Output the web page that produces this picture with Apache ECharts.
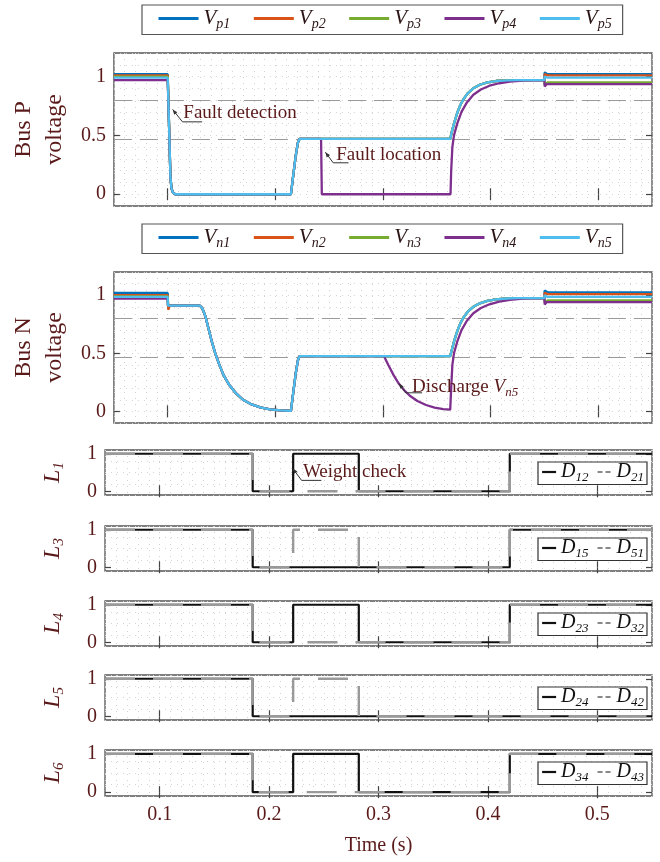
<!DOCTYPE html>
<html>
<head>
<meta charset="utf-8">
<script src="https://cdn.jsdelivr.net/npm/echarts@6/dist/echarts.min.js"></script>
<style>
html, body { margin: 0; padding: 0; background: #fff; }
#main { width: 660px; height: 862px; }
</style>
</head>
<body>
<div id="main"></div>
<script>
// ---- axes ----
var tMin = 0.05, tMax = 0.55;
var xTicks = [0.1, 0.2, 0.3, 0.4, 0.5];
var busTicks = [0, 0.5, 1];
var lineTicks = [0, 1];
var refLevels = [0.8, 0.465];

// ---- bus P voltage, [time, pu] ----
var pDrop = [[0.1015, 0.5], [0.1025, 0.15], [0.1035, 0.05], [0.105, 0.012], [0.107, 0], [0.2145, 0],
    [0.2165, 0.15], [0.219, 0.33], [0.221, 0.44], [0.2225, 0.47]];
var pRise = [[0.3625, 0.47], [0.364, 0.53], [0.366, 0.6], [0.369, 0.69], [0.372, 0.76], [0.375, 0.81],
    [0.379, 0.86], [0.384, 0.9], [0.39, 0.93], [0.397, 0.95], [0.405, 0.962], [0.415, 0.968], [0.425, 0.97], [0.45, 0.97]];
var p4Rise = [[0.2425, 0.47], [0.2432, 0], [0.3628, 0], [0.3634, 0.2], [0.3645, 0.4], [0.366, 0.5], [0.369, 0.6],
    [0.373, 0.7], [0.378, 0.78], [0.384, 0.845], [0.391, 0.89], [0.399, 0.922], [0.408, 0.943], [0.418, 0.957],
    [0.43, 0.966], [0.45, 0.97]];
var vp1 = [[0.05, 1.02], [0.1, 1.02]].concat(pDrop, pRise, [[0.4502, 1.035], [0.453, 1.02], [0.55, 1.02]]);
var vp2 = [[0.05, 1.01], [0.1, 1.01]].concat(pDrop, pRise, [[0.4502, 1.02], [0.453, 1.01], [0.55, 1.01]]);
var vp3 = [[0.05, 1.0], [0.1, 1.0]].concat(pDrop, pRise, [[0.4502, 0.93], [0.453, 0.95], [0.55, 0.95]]);
var vp4 = [[0.05, 0.97], [0.1, 0.97]].concat(pDrop, p4Rise, [[0.4503, 0.915], [0.452, 0.935], [0.55, 0.935]]);
var vp5 = [[0.05, 0.99], [0.1, 0.99]].concat(pDrop, pRise, [[0.4502, 1.0], [0.453, 0.99], [0.55, 0.99]]);

// ---- bus N voltage ----
var nDrop = [[0.13, 0.91], [0.132, 0.89], [0.135, 0.82], [0.138, 0.71], [0.141, 0.6], [0.1445, 0.49], [0.148, 0.4],
    [0.152, 0.31], [0.157, 0.23], [0.163, 0.16], [0.17, 0.1], [0.178, 0.06], [0.186, 0.035], [0.195, 0.018],
    [0.205, 0.008], [0.2145, 0.005], [0.2165, 0.15], [0.219, 0.33], [0.221, 0.44], [0.2225, 0.475]];
var nRise = [[0.3625, 0.475], [0.364, 0.53], [0.366, 0.6], [0.369, 0.69], [0.372, 0.76], [0.375, 0.81],
    [0.379, 0.86], [0.384, 0.9], [0.39, 0.93], [0.397, 0.952], [0.405, 0.965], [0.415, 0.972], [0.425, 0.975], [0.45, 0.975]];
var n4Fall = [[0.301, 0.475], [0.305, 0.4], [0.31, 0.31], [0.315, 0.235], [0.32, 0.18], [0.325, 0.135], [0.332, 0.09],
    [0.34, 0.055], [0.348, 0.033], [0.356, 0.02], [0.3625, 0.015], [0.3634, 0.2], [0.3645, 0.4], [0.366, 0.5],
    [0.369, 0.6], [0.373, 0.7], [0.378, 0.78], [0.384, 0.845], [0.391, 0.89], [0.399, 0.922], [0.408, 0.945],
    [0.418, 0.96], [0.43, 0.97], [0.45, 0.975]];
var vn1 = [[0.05, 1.02], [0.1, 1.02], [0.1003, 0.91]].concat(nDrop, nRise, [[0.4502, 1.04], [0.453, 1.025], [0.55, 1.025]]);
var vn2 = [[0.05, 1.0], [0.1, 1.0], [0.1005, 0.875], [0.102, 0.91]].concat(nDrop, nRise, [[0.4502, 1.02], [0.453, 1.01], [0.55, 1.01]]);
var vn3 = [[0.05, 0.99], [0.1, 0.99], [0.1003, 0.91]].concat(nDrop, nRise, [[0.4502, 0.94], [0.453, 0.955], [0.55, 0.955]]);
var vn4 = [[0.05, 0.97], [0.1, 0.97], [0.1003, 0.91]].concat(nDrop, n4Fall, [[0.4503, 0.92], [0.452, 0.94], [0.55, 0.94]]);
var vn5 = [[0.05, 0.985], [0.1, 0.985], [0.1003, 0.91]].concat(nDrop, nRise, [[0.4502, 1.0], [0.453, 0.985], [0.55, 0.985]]);

// ---- line switch states, step held until next time ----
var d12 = [[0.05, 1], [0.185, 0], [0.222, 1], [0.282, 0], [0.42, 1], [0.55, 1]];
var d21 = [[0.05, 1], [0.185, 0], [0.42, 1], [0.55, 1]];
var d15 = [[0.05, 1], [0.185, 0], [0.42, 1], [0.55, 1]];
var d51 = [[0.05, 1], [0.185, 0], [0.222, 1], [0.282, 0], [0.42, 1], [0.55, 1]];
var d23 = [[0.05, 1], [0.185, 0], [0.222, 1], [0.282, 0], [0.42, 1], [0.55, 1]];
var d32 = [[0.05, 1], [0.185, 0], [0.42, 1], [0.55, 1]];
var d24 = [[0.05, 1], [0.185, 0], [0.55, 0]];
var d42 = [[0.05, 1], [0.185, 0], [0.222, 1], [0.282, 0], [0.55, 0]];
var d34 = [[0.05, 1], [0.185, 0], [0.222, 1], [0.282, 0], [0.42, 1], [0.55, 1]];
var d43 = [[0.05, 1], [0.185, 0], [0.42, 1], [0.55, 1]];

var serif = 'Liberation Serif';
var maroon = '#5a1a1a';
var colors = ['#0072BD', '#D95319', '#77AC30', '#7E2F8E', '#4DBEEE'];

var panels = [
    {top: 53, height: 153, ymin: -0.1, ymax: 1.2, yStep: 0.1, ticks: busTicks, name: 'Bus P\nvoltage',
        series: [['Vp1', vp1], ['Vp2', vp2], ['Vp3', vp3], ['Vp4', vp4], ['Vp5', vp5]]},
    {top: 272, height: 151, ymin: -0.1, ymax: 1.2, yStep: 0.1, ticks: busTicks, name: 'Bus N\nvoltage',
        series: [['Vn1', vn1], ['Vn2', vn2], ['Vn3', vn3], ['Vn4', vn4], ['Vn5', vn5]]},
    {top: 450, height: 45, ymin: -0.1, ymax: 1.1, yStep: 0.3, ticks: lineTicks, sub: '1', series: [['D12', d12], ['D21', d21]]},
    {top: 526, height: 45, ymin: -0.1, ymax: 1.1, yStep: 0.3, ticks: lineTicks, sub: '3', series: [['D15', d15], ['D51', d51]]},
    {top: 601, height: 45, ymin: -0.1, ymax: 1.1, yStep: 0.3, ticks: lineTicks, sub: '4', series: [['D23', d23], ['D32', d32]]},
    {top: 675, height: 45, ymin: -0.1, ymax: 1.1, yStep: 0.3, ticks: lineTicks, sub: '5', series: [['D24', d24], ['D42', d42]]},
    {top: 750, height: 46, ymin: -0.1, ymax: 1.1, yStep: 0.3, ticks: lineTicks, sub: '6', series: [['D34', d34], ['D43', d43]]}
];

// annotation arrows (data coords of each panel)
var notes = [
    {grid: 0, text: 'Fault detection', tip: [0.1046, 0.72], elbow: [0.1137, 0.615], end: [0.132, 0.615], at: [0.1145, 0.69]},
    {grid: 0, text: 'Fault location', tip: [0.2465, 0.357], elbow: [0.2538, 0.267], end: [0.268, 0.267], at: [0.2565, 0.33]},
    {grid: 1, text: 'Discharge {v|V}{s|n5}', tip: [0.315, 0.24], elbow: [0.3212, 0.16], end: [0.3364, 0.16], at: [0.3271, 0.21]},
    {grid: 2, text: 'Weight check', tip: [0.2217, 0.605], elbow: [0.2297, 0.29], end: [0.2478, 0.29], at: [0.2309, 0.51]}
];

var tickStyle = {color: '#444', width: 1.2};
var dotStyle = {color: '#d2d2d2', width: 1, type: [1, 5]};
var subRich = {
    v: {fontFamily: serif, fontStyle: 'italic', fontSize: 21, color: '#2a1414', lineHeight: 26},
    s: {fontFamily: serif, fontStyle: 'italic', fontSize: 14, color: '#2a1414', lineHeight: 14, verticalAlign: 'bottom'}
};

var grid = [], xAxis = [], yAxis = [], series = [], legend = [];

panels.forEach(function (p, i) {
    var last = i === panels.length - 1;
    grid.push({left: 105, right: 8, top: p.top, height: p.height, show: true,
        borderColor: '#555', borderWidth: 1.3, backgroundColor: 'transparent'});

    xAxis.push({
        gridIndex: i, type: 'value', min: tMin, max: tMax, position: 'bottom',
        axisLine: {show: false},
        axisTick: {customValues: xTicks, inside: true, length: 6, lineStyle: tickStyle},
        axisLabel: {show: last, customValues: xTicks, margin: 9, fontFamily: serif, fontSize: 20, color: maroon,
            formatter: function (v) { return v.toFixed(1); }},
        splitLine: {show: false},
        name: last ? 'Time (s)' : '', nameLocation: 'middle', nameGap: 40,
        nameTextStyle: {fontFamily: serif, fontSize: 20, color: maroon}
    });
    xAxis.push({
        gridIndex: i, type: 'value', min: tMin, max: tMax, position: 'top',
        axisLine: {show: false}, axisLabel: {show: false}, splitLine: {show: false},
        axisTick: {customValues: xTicks, inside: true, length: 6, lineStyle: tickStyle}
    });
    xAxis.push({
        gridIndex: i, type: 'value', min: tMin, max: tMax, interval: 0.01, position: 'bottom',
        axisLine: {show: false}, axisLabel: {show: false}, axisTick: {show: false},
        splitLine: {show: true, lineStyle: dotStyle}
    });

    var yName = p.name ? p.name : '{i|L}{s|' + p.sub + '}';
    yAxis.push({
        gridIndex: i, type: 'value', min: p.ymin, max: p.ymax, position: 'left',
        axisLine: {show: false},
        axisTick: {customValues: p.ticks, inside: true, length: 6, lineStyle: tickStyle},
        axisLabel: {customValues: p.ticks, margin: 8, fontFamily: serif, fontSize: 20, color: maroon,
            formatter: function (v) { return String(v); }},
        splitLine: {show: false},
        name: yName, nameLocation: 'middle', nameRotate: 90, nameGap: p.name ? 36 : 38,
        nameTextStyle: p.name ? {fontFamily: serif, fontSize: 24, color: maroon, lineHeight: 31} : {
            rich: {
                i: {fontFamily: serif, fontStyle: 'italic', fontSize: 24, color: maroon, lineHeight: 28},
                s: {fontFamily: serif, fontStyle: 'italic', fontSize: 15, color: maroon, lineHeight: 15, verticalAlign: 'bottom'}
            }
        }
    });
    yAxis.push({
        gridIndex: i, type: 'value', min: p.ymin, max: p.ymax, position: 'right',
        axisLine: {show: false}, axisLabel: {show: false}, splitLine: {show: false},
        axisTick: {customValues: p.ticks, inside: true, length: 6, lineStyle: tickStyle}
    });
    yAxis.push({
        gridIndex: i, type: 'value', min: p.ymin, max: p.ymax, interval: p.yStep, position: 'left',
        axisLine: {show: false}, axisLabel: {show: false}, axisTick: {show: false},
        splitLine: {show: true, lineStyle: dotStyle}
    });

    var names = [];
    p.series.forEach(function (s, k) {
        names.push(s[0]);
        var isBus = !!p.name;
        var item = {
            name: s[0], type: 'line', data: s[1], xAxisIndex: 3 * i, yAxisIndex: 3 * i,
            showSymbol: false, symbol: 'none', animation: false, z: 3 + k,
            lineStyle: isBus ? {color: colors[k], width: 2.3} :
                (k === 0 ? {color: '#111', width: 2.2} : {color: '#999', width: 2.4, type: [30, 18]}),
            itemStyle: {color: isBus ? colors[k] : (k === 0 ? '#111' : '#999')}
        };
        if (!isBus) item.step = 'end';
        if (isBus && k === 0) {
            item.markLine = {
                silent: true, symbol: 'none', label: {show: false},
                lineStyle: {color: '#9a9a9a', width: 1.2, type: [18, 8]},
                data: refLevels.map(function (v) { return {yAxis: v}; })
            };
        }
        series.push(item);
    });

    if (p.name) {
        legend.push({
            data: names, left: 142, top: p.top - 48, orient: 'horizontal', selectedMode: false,
            itemWidth: 40, itemHeight: 14, itemGap: 22, padding: [3, 11, 3, 15],
            borderColor: '#555', borderWidth: 1.2, backgroundColor: '#fff',
            itemStyle: {opacity: 0}, lineStyle: {width: 3},
            formatter: function (n) { return '{v|V}{s|' + n.slice(1) + '}'; },
            textStyle: {rich: subRich}
        });
    } else {
        legend.push({
            data: [
                {name: names[0], lineStyle: {color: '#111', width: 2.2, type: 'solid'}},
                {name: names[1], lineStyle: {color: '#888', width: 2, type: [5, 3]}}
            ],
            left: 538, top: p.top + 12, orient: 'horizontal', selectedMode: false,
            itemWidth: 14, itemHeight: 14, itemGap: 8, padding: [0, 3, 0, 3],
            borderColor: '#333', borderWidth: 1.2, backgroundColor: '#fff',
            itemStyle: {opacity: 0},
            formatter: function (n) { return '{v|D}{s|' + n.slice(1) + '}'; },
            textStyle: {rich: {
                v: {fontFamily: serif, fontStyle: 'italic', fontSize: 20, color: '#111', lineHeight: 25},
                s: {fontFamily: serif, fontStyle: 'italic', fontSize: 13, color: '#111', lineHeight: 13, verticalAlign: 'bottom'}
            }}
        });
    }
});

var chart = echarts.init(document.getElementById('main'));
chart.setOption({
    animation: false,
    backgroundColor: '#fff',
    grid: grid, xAxis: xAxis, yAxis: yAxis, legend: legend, series: series
});

// annotation arrows drawn in pixel space from data coordinates
var graphics = [];
notes.forEach(function (n) {
    var f = {xAxisIndex: 3 * n.grid, yAxisIndex: 3 * n.grid};
    var tip = chart.convertToPixel(f, n.tip);
    var elbow = chart.convertToPixel(f, n.elbow);
    var end = chart.convertToPixel(f, n.end);
    var at = chart.convertToPixel(f, n.at);
    var dx = elbow[0] - tip[0], dy = elbow[1] - tip[1];
    var len = Math.sqrt(dx * dx + dy * dy);
    var ux = dx / len, uy = dy / len;
    graphics.push({type: 'polyline', silent: true, z: 20,
        shape: {points: [tip, elbow, end]}, style: {stroke: '#333', lineWidth: 1, fill: null}});
    graphics.push({type: 'polygon', silent: true, z: 20,
        shape: {points: [tip, [tip[0] + 5 * ux - 2 * uy, tip[1] + 5 * uy + 2 * ux], [tip[0] + 5 * ux + 2 * uy, tip[1] + 5 * uy - 2 * ux]]},
        style: {fill: '#333'}});
    graphics.push({type: 'text', silent: true, z: 21, x: at[0], y: at[1],
        style: {text: n.text, fontFamily: serif, fontSize: 19, fill: maroon, verticalAlign: 'middle',
            rich: {
                v: {fontFamily: serif, fontStyle: 'italic', fontSize: 19, fill: maroon, lineHeight: 24},
                s: {fontFamily: serif, fontStyle: 'italic', fontSize: 13, fill: maroon, lineHeight: 13, verticalAlign: 'bottom'}
            }}});
});
chart.setOption({graphic: graphics});
</script>
</body>
</html>
